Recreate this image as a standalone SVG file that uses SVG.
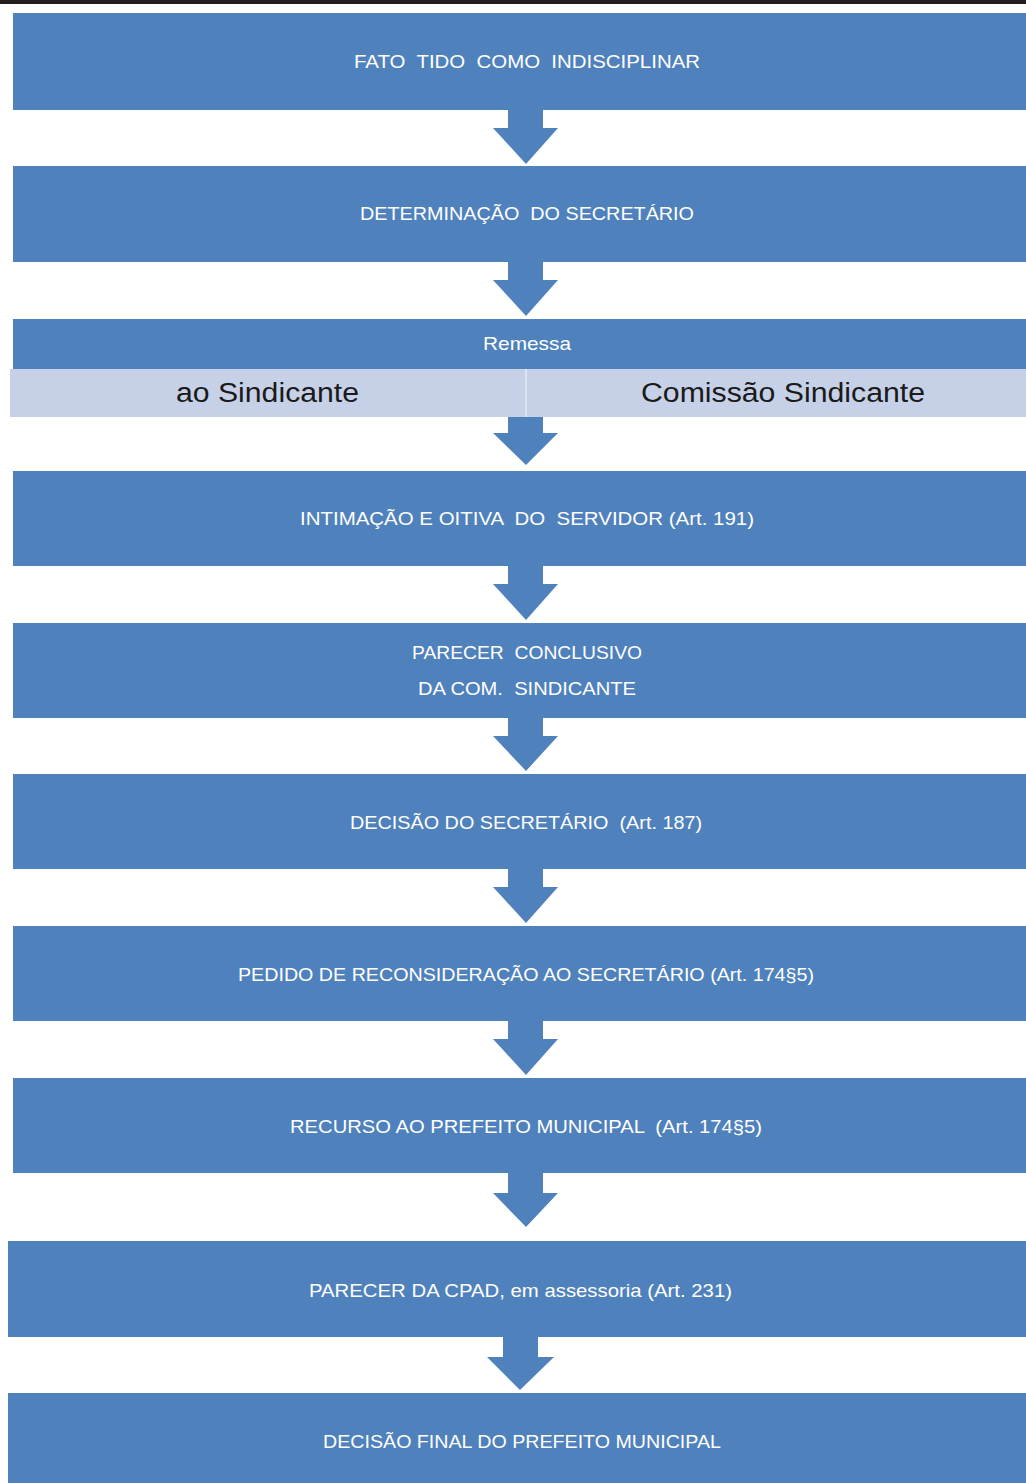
<svg xmlns="http://www.w3.org/2000/svg" width="1026" height="1483" viewBox="0 0 1026 1483">
<style>
.box{fill:#4F81BD}
.sub{fill:#C6D1E7}
.arrow{fill:#4F81BD}
.t{font-family:"Liberation Sans",Arial,sans-serif;font-size:19px;fill:#FFFFFF;text-anchor:start}
.d{font-family:"Liberation Sans",Arial,sans-serif;font-size:27px;fill:#1A1A1A}
</style>
<rect x="0" y="0" width="1026" height="1483" fill="#FFFFFF"/>
<rect x="0" y="0" width="1026" height="4" fill="#231F20"/>
<g id="n1"><rect class="box" x="13" y="13" width="1013" height="97"/><text class="t" x="354" y="68" textLength="346" lengthAdjust="spacingAndGlyphs" xml:space="preserve">FATO  TIDO  COMO  INDISCIPLINAR</text></g>
<g id="n2"><rect class="box" x="13" y="166" width="1013" height="96"/><text class="t" x="360" y="220" textLength="334" lengthAdjust="spacingAndGlyphs" xml:space="preserve">DETERMINAÇÃO  DO SECRETÁRIO</text></g>
<g id="n3"><rect class="box" x="13" y="319" width="1013" height="50"/><text class="t" x="483" y="350" textLength="88" lengthAdjust="spacingAndGlyphs">Remessa</text>
<rect class="sub" x="10" y="369" width="1016" height="48"/><rect x="525" y="369" width="2" height="48" fill="#DDE3F0"/>
<text class="d" x="176" y="402" textLength="183" lengthAdjust="spacingAndGlyphs">ao Sindicante</text>
<text class="d" x="641" y="402" textLength="284" lengthAdjust="spacingAndGlyphs">Comissão Sindicante</text></g>
<g id="n4"><rect class="box" x="13" y="471" width="1013" height="95"/><text class="t" x="300" y="525" textLength="454" lengthAdjust="spacingAndGlyphs" xml:space="preserve">INTIMAÇÃO E OITIVA  DO  SERVIDOR (Art. 191)</text></g>
<g id="n5"><rect class="box" x="13" y="623" width="1013" height="95"/><text class="t" x="412" y="659" textLength="230" lengthAdjust="spacingAndGlyphs" xml:space="preserve">PARECER  CONCLUSIVO</text><text class="t" x="418" y="695" textLength="218" lengthAdjust="spacingAndGlyphs" xml:space="preserve">DA COM.  SINDICANTE</text></g>
<g id="n6"><rect class="box" x="13" y="774" width="1013" height="95"/><text class="t" x="350" y="829" textLength="352" lengthAdjust="spacingAndGlyphs" xml:space="preserve">DECISÃO DO SECRETÁRIO  (Art. 187)</text></g>
<g id="n7"><rect class="box" x="13" y="926" width="1013" height="95"/><text class="t" x="238" y="981" textLength="576" lengthAdjust="spacingAndGlyphs">PEDIDO DE RECONSIDERAÇÃO AO SECRETÁRIO (Art. 174§5)</text></g>
<g id="n8"><rect class="box" x="13" y="1078" width="1013" height="95"/><text class="t" x="290" y="1133" textLength="472" lengthAdjust="spacingAndGlyphs" xml:space="preserve">RECURSO AO PREFEITO MUNICIPAL  (Art. 174§5)</text></g>
<g id="n9"><rect class="box" x="8" y="1241" width="1018" height="96"/><text class="t" x="309" y="1297" textLength="423" lengthAdjust="spacingAndGlyphs">PARECER DA CPAD, em assessoria (Art. 231)</text></g>
<g id="n10"><rect class="box" x="8" y="1393" width="1018" height="90"/><text class="t" x="323" y="1448" textLength="398" lengthAdjust="spacingAndGlyphs">DECISÃO FINAL DO PREFEITO MUNICIPAL</text></g>
<g id="connectors">
<path class="arrow" d="M508,110 H543 V128 H558 L526,164 L493,128 H508 Z"/>
<path class="arrow" d="M508,262 H543 V280 H558 L526,316 L493,280 H508 Z"/>
<path class="arrow" d="M508,417 H543 V433 H558 L526,465 L493,433 H508 Z"/>
<path class="arrow" d="M508,566 H543 V584 H558 L526,620 L493,584 H508 Z"/>
<path class="arrow" d="M508,718 H543 V736 H558 L526,771 L493,736 H508 Z"/>
<path class="arrow" d="M508,869 H543 V887 H558 L526,923 L493,887 H508 Z"/>
<path class="arrow" d="M508,1021 H543 V1039 H558 L526,1075 L493,1039 H508 Z"/>
<path class="arrow" d="M508,1173 H543 V1193 H558 L526,1227 L493,1193 H508 Z"/>
<path class="arrow" d="M503,1337 H538 V1357 H554 L520,1390 L487,1357 H503 Z"/>
</g>
</svg>
